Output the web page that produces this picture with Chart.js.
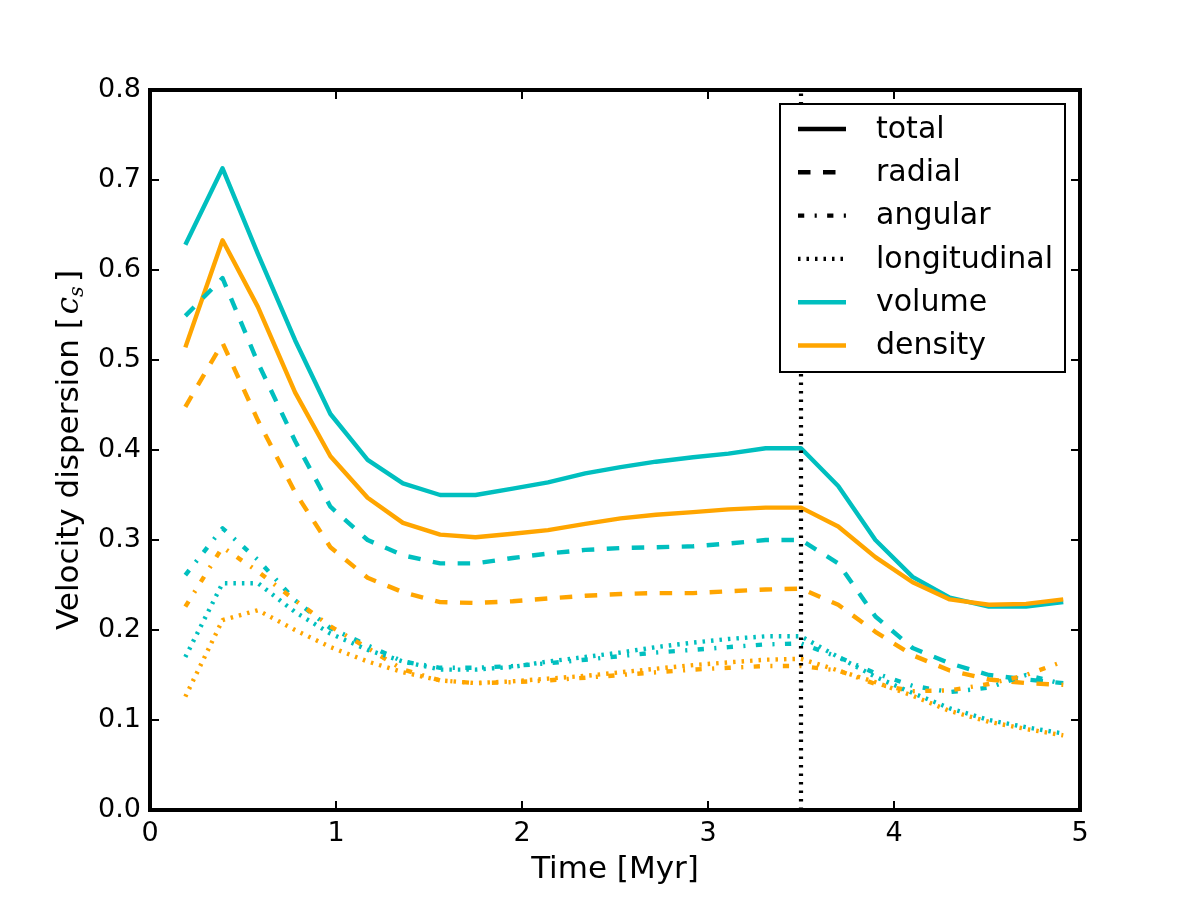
<!DOCTYPE html>
<html>
<head>
<meta charset="utf-8">
<script src="https://cdn.jsdelivr.net/npm/chart.js@4.4.1/dist/chart.umd.min.js"></script>
<style>
  body { margin: 0; background: #fff; }
  canvas { display: block; }
</style>
</head>
<body>
<canvas id="dispersion-chart" width="1200" height="900"></canvas>
<script>
// time of the snapshots [Myr]
var time = [0.19, 0.39, 0.58, 0.78, 0.97, 1.17, 1.36, 1.56, 1.75, 1.95, 2.14, 2.34, 2.53,
            2.72, 2.92, 3.11, 3.31, 3.50, 3.70, 3.90, 4.10, 4.30, 4.51, 4.71, 4.91];

// volume weighted
var volTotal   = [0.628, 0.713, 0.618, 0.522, 0.440, 0.389, 0.363, 0.350, 0.350, 0.357, 0.364, 0.374, 0.381,
                  0.387, 0.392, 0.396, 0.402, 0.402, 0.360, 0.300, 0.259, 0.236, 0.226, 0.226, 0.231];
var volRadial  = [0.549, 0.591, 0.497, 0.410, 0.337, 0.300, 0.283, 0.274, 0.274, 0.280, 0.285, 0.289, 0.291,
                  0.292, 0.293, 0.296, 0.300, 0.300, 0.274, 0.215, 0.180, 0.163, 0.150, 0.145, 0.141];
var volAngular = [0.261, 0.313, 0.278, 0.233, 0.202, 0.183, 0.165, 0.158, 0.158, 0.160, 0.163, 0.167, 0.171,
                  0.175, 0.178, 0.181, 0.184, 0.185, 0.170, 0.152, 0.138, 0.131, 0.136, 0.150, 0.140];
var volLong    = [0.170, 0.252, 0.252, 0.220, 0.196, 0.178, 0.165, 0.156, 0.156, 0.159, 0.165, 0.170, 0.175,
                  0.181, 0.186, 0.190, 0.193, 0.193, 0.170, 0.148, 0.130, 0.113, 0.100, 0.092, 0.085];

// density weighted
var denTotal   = [0.514, 0.633, 0.559, 0.464, 0.393, 0.347, 0.319, 0.306, 0.303, 0.307, 0.311, 0.318, 0.324,
                  0.328, 0.331, 0.334, 0.336, 0.336, 0.315, 0.281, 0.253, 0.234, 0.228, 0.229, 0.234];
var denRadial  = [0.448, 0.519, 0.433, 0.353, 0.292, 0.258, 0.242, 0.231, 0.230, 0.232, 0.235, 0.238, 0.240,
                  0.241, 0.241, 0.243, 0.245, 0.246, 0.228, 0.198, 0.172, 0.155, 0.145, 0.141, 0.139];
var denAngular = [0.226, 0.292, 0.265, 0.233, 0.204, 0.180, 0.156, 0.144, 0.141, 0.142, 0.144, 0.147, 0.150,
                  0.153, 0.156, 0.158, 0.160, 0.160, 0.155, 0.140, 0.132, 0.133, 0.140, 0.150, 0.165];
var denLong    = [0.126, 0.211, 0.222, 0.200, 0.181, 0.165, 0.153, 0.144, 0.141, 0.143, 0.146, 0.149, 0.153,
                  0.157, 0.161, 0.164, 0.167, 0.168, 0.155, 0.142, 0.127, 0.110, 0.098, 0.090, 0.083];

var markerTime = 3.5;
var xTicks = [0, 1, 2, 3, 4, 5];
var yTicks = [0.0, 0.1, 0.2, 0.3, 0.4, 0.5, 0.6, 0.7, 0.8];

var legendNames = ["total", "radial", "angular", "longitudinal", "volume", "density"];

var CYAN = "#00bfbf";
var ORANGE = "#ffa500";
var DASHED = [12.5, 12.5];
var DASHDOT = [6.25, 10.4, 2.1, 10.4];
var DOTTED = [2.5, 6];

function pts(arr) {
    return time.map(function (t, i) { return { x: t, y: arr[i] }; });
}

function line(arr, color, dash) {
    return {
        data: pts(arr),
        borderColor: color,
        borderWidth: 4.4,
        borderDash: dash,
        borderCapStyle: "butt",
        borderJoinStyle: "round",
        pointRadius: 0,
        fill: false,
        tension: 0
    };
}

var FONT = "'DejaVu Sans', 'Liberation Sans', sans-serif";

// frame, inward ticks, axis titles and the legend box
var decorations = {
    id: "decorations",
    afterDraw: function (chart) {
        var ctx = chart.ctx;
        var a = chart.chartArea;
        var xs = chart.scales.x, ys = chart.scales.y;
        ctx.save();

        // ticks on all four sides, pointing inwards
        ctx.strokeStyle = "#000";
        ctx.lineWidth = 2;
        ctx.setLineDash([]);
        ctx.beginPath();
        xTicks.forEach(function (v) {
            var px = xs.getPixelForValue(v);
            ctx.moveTo(px, a.bottom); ctx.lineTo(px, a.bottom - 9);
            ctx.moveTo(px, a.top); ctx.lineTo(px, a.top + 9);
        });
        yTicks.forEach(function (v) {
            var py = ys.getPixelForValue(v);
            ctx.moveTo(a.left, py); ctx.lineTo(a.left + 9, py);
            ctx.moveTo(a.right, py); ctx.lineTo(a.right - 9, py);
        });
        ctx.stroke();

        // frame
        ctx.lineWidth = 4;
        ctx.strokeRect(a.left, a.top, a.right - a.left, a.bottom - a.top);

        // x title
        ctx.fillStyle = "#000";
        ctx.font = "31px " + FONT;
        ctx.textAlign = "center";
        ctx.textBaseline = "alphabetic";
        ctx.fillText("Time [Myr]", (a.left + a.right) / 2, 878);

        // y title with math c_s
        ctx.save();
        ctx.translate(78, (a.top + a.bottom) / 2);
        ctx.rotate(-Math.PI / 2);
        var parts = [
            { t: "Velocity dispersion [", f: "31px " + FONT, dy: 0, gap: 3 },
            { t: "c", f: "italic 31px 'DejaVu Serif', serif", dy: 0, gap: 0 },
            { t: "s", f: "italic 21px 'DejaVu Serif', serif", dy: 5, gap: 4 },
            { t: "]", f: "31px " + FONT, dy: 0, gap: 0 }
        ];
        var total = 0;
        parts.forEach(function (p) { ctx.font = p.f; p.w = ctx.measureText(p.t).width; total += p.w + p.gap; });
        var cx = -total / 2;
        ctx.textAlign = "left";
        parts.forEach(function (p) {
            ctx.font = p.f;
            ctx.fillText(p.t, cx, p.dy);
            cx += p.w + p.gap;
        });
        ctx.restore();

        // legend
        var lx = 780, ly = 104, lw = 285, lh = 268;
        ctx.fillStyle = "#fff";
        ctx.fillRect(lx, ly, lw, lh);
        ctx.lineWidth = 2;
        ctx.strokeStyle = "#000";
        ctx.strokeRect(lx, ly, lw, lh);

        var styles = [
            { c: "#000", d: [] }, { c: "#000", d: DASHED }, { c: "#000", d: DASHDOT },
            { c: "#000", d: DOTTED }, { c: CYAN, d: [] }, { c: ORANGE, d: [] }
        ];
        ctx.font = "30px " + FONT;
        ctx.textAlign = "left";
        ctx.textBaseline = "middle";
        legendNames.forEach(function (name, i) {
            var y = 129 + i * 43.3;
            ctx.beginPath();
            ctx.lineWidth = 4.4;
            ctx.lineCap = "butt";
            ctx.strokeStyle = styles[i].c;
            ctx.setLineDash(styles[i].d);
            ctx.moveTo(798, y);
            ctx.lineTo(846, y);
            ctx.stroke();
            ctx.setLineDash([]);
            ctx.fillStyle = "#000";
            ctx.fillText(name, 876, y + 1);
        });

        ctx.restore();
    }
};

new Chart(document.getElementById("dispersion-chart"), {
    type: "line",
    data: {
        datasets: [
            {
                data: [{ x: markerTime, y: 0 }, { x: markerTime, y: 0.8 }],
                borderColor: "#000",
                borderWidth: 4.2,
                borderDash: DOTTED,
                borderCapStyle: "butt",
                pointRadius: 0,
                fill: false
            },
            line(denLong, ORANGE, DOTTED),
            line(volLong, CYAN, DOTTED),
            line(denAngular, ORANGE, DASHDOT),
            line(volAngular, CYAN, DASHDOT),
            line(denRadial, ORANGE, DASHED),
            line(volRadial, CYAN, DASHED),
            line(denTotal, ORANGE, []),
            line(volTotal, CYAN, [])
        ]
    },
    options: {
        responsive: false,
        animation: false,
        layout: { padding: { left: 0, top: 90, right: 120, bottom: 0 } },
        plugins: {
            legend: { display: false },
            tooltip: { enabled: false }
        },
        scales: {
            x: {
                type: "linear",
                min: 0,
                max: 5,
                afterFit: function (scale) { scale.height = 90; },
                afterBuildTicks: function (scale) { scale.ticks = xTicks.map(function (v) { return { value: v }; }); },
                grid: { display: false },
                border: { display: false },
                ticks: {
                    color: "#000",
                    padding: 0,
                    maxRotation: 0,
                    font: { family: "'DejaVu Sans'", size: 27 },
                    callback: function (v) { return String(v); }
                }
            },
            y: {
                min: 0,
                max: 0.8,
                afterFit: function (scale) { scale.width = 150; },
                afterBuildTicks: function (scale) { scale.ticks = yTicks.map(function (v) { return { value: v }; }); },
                grid: { display: false },
                border: { display: false },
                ticks: {
                    color: "#000",
                    padding: 1,
                    font: { family: "'DejaVu Sans'", size: 27 },
                    callback: function (v) { return v.toFixed(1); }
                }
            }
        }
    },
    plugins: [decorations]
});
</script>
</body>
</html>
